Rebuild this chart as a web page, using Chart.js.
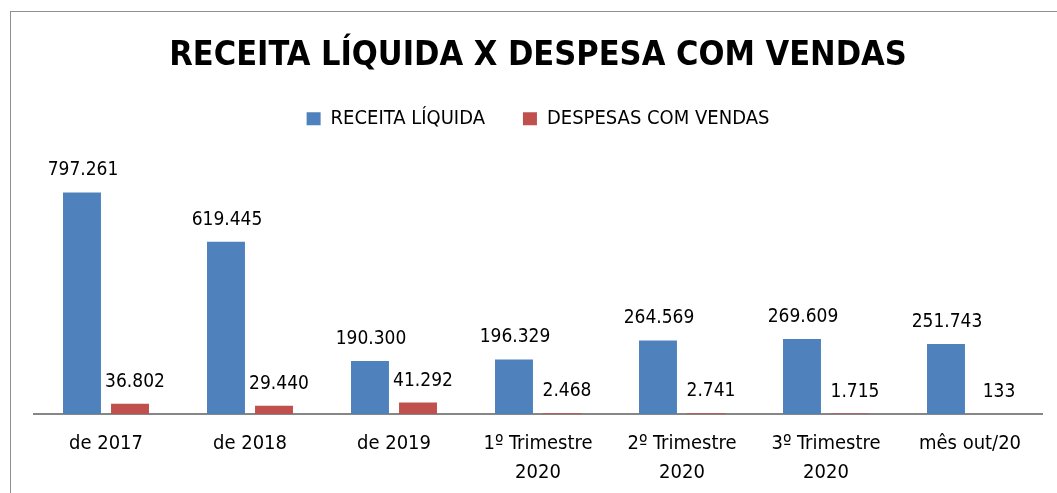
<!DOCTYPE html>
<html>
<head>
<title>RECEITA LIQUIDA X DESPESA</title>
<script src="https://cdn.jsdelivr.net/npm/chart.js@4/dist/chart.umd.min.js"></script>
<style>
body { margin:0; background:#fff; overflow:hidden; }
#frame { position:absolute; left:10px; top:11px; width:1046px; height:481px; overflow:hidden; border-top:1px solid #909090; border-left:1px solid #909090; }
</style>
</head>
<body>

<div id="frame">
	<canvas id="myChart" width="1046" height="482"></canvas>
</div>

<script>
var categorias = [ 'de 2017', 'de 2018', 'de 2019', ['1º Trimestre','2020'], ['2º Trimestre','2020'], ['3º Trimestre','2020'], 'mês out/20' ];
var receita = [ 797261, 619445, 190300, 196329, 264569, 269609, 251743 ];
var despesas = [ 36802, 29440, 41292, 2468, 2741, 1715, 133 ];

var fonte = "'Liberation Sans Narrow', 'DejaVu Sans Condensed', 'Arial Narrow', sans-serif";

function fmt(v){ return String(v).replace(/\B(?=(\d{3})+(?!\d))/g, '.'); }

// rotulos em cima das barras
var rotulos = {
  id: 'rotulos',
  afterDatasetsDraw: function(chart){
    var ctx = chart.ctx;
    ctx.save();
    ctx.font = '19px ' + fonte;
    ctx.fillStyle = '#000';
    ctx.textAlign = 'center';
    ctx.textBaseline = 'alphabetic';
    chart.data.datasets.forEach(function(ds, i){
      chart.getDatasetMeta(i).data.forEach(function(bar, j){
        var dx = i == 1 ? 5 : 1;
        ctx.fillText(fmt(ds.data[j]), bar.x + dx, bar.y - 17);
      });
    });
    ctx.restore();
  }
};

var ctx = document.getElementById('myChart').getContext('2d');
var chart = new Chart(ctx, {
  type: 'bar',
  data: {
    labels: categorias,
    datasets: [
      { label: 'RECEITA LÍQUIDA', data: receita, backgroundColor: '#4F81BD', borderWidth: 0 },
      { label: 'DESPESAS COM VENDAS', data: despesas, backgroundColor: '#C0504D', borderWidth: 0 }
    ]
  },
  options: {
    responsive: false,
    animation: false,
    categoryPercentage: 0.667,
    barPercentage: 0.79,
    layout: { padding: { left: 23, right: 15, top: 0, bottom: 0 } },
    plugins: {
      title: {
        display: true,
        text: 'RECEITA LÍQUIDA X DESPESA COM VENDAS',
        color: '#000',
        font: { family: fonte, size: 34, weight: 'bold' },
        padding: { top: 24, bottom: -6 }
      },
      legend: {
        position: 'top',
        labels: {
          color: '#000',
          boxWidth: 14,
          boxHeight: 13,
          padding: 38,
          font: { family: fonte, size: 20 }
        }
      },
      tooltip: { enabled: false }
    },
    scales: {
      x: {
        grid: { display: false },
        border: { display: true, color: '#868686', width: 2 },
        ticks: { color: '#000', padding: 7, maxRotation: 0, font: { family: fonte, size: 20, lineHeight: 1.45 } }
      },
      y: {
        display: false,
        min: 0,
        max: 990000
      }
    }
  },
  plugins: [ rotulos ]
});
</script>
</body>
</html>
